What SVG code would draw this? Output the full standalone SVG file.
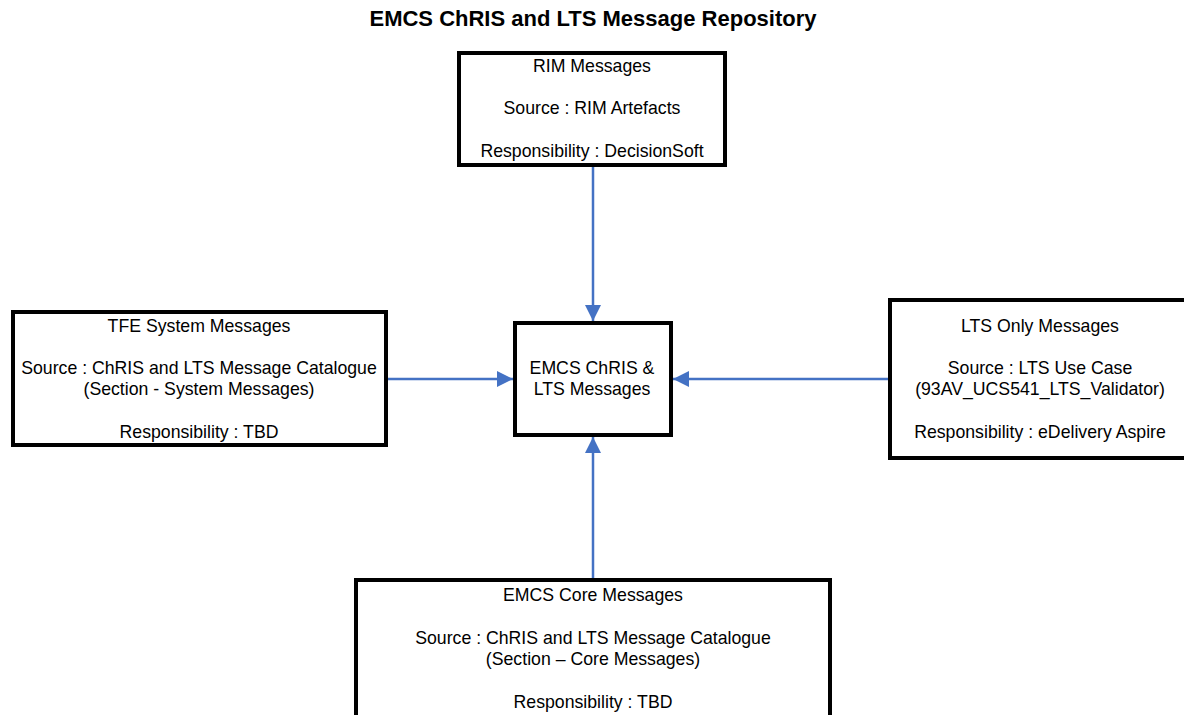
<svg xmlns="http://www.w3.org/2000/svg" width="1184" height="715" viewBox="0 0 1184 715">
<defs>
<style>
.box{fill:#fff;stroke:#000;stroke-width:4}
.t{font-family:"Liberation Sans",Arial,sans-serif;font-size:17.7px;fill:#000;text-anchor:middle}
.title{font-family:"Liberation Sans",Arial,sans-serif;font-size:22px;font-weight:bold;fill:#000;text-anchor:middle}
.conn{stroke:#4472C4;stroke-width:2.5;fill:none;marker-end:url(#ah)}
</style>
<marker id="ah" markerUnits="userSpaceOnUse" markerWidth="16" markerHeight="16" viewBox="0 0 16 16" refX="16" refY="8" orient="auto">
<path d="M0,0 L16,8 L0,16 Z" fill="#4472C4"/>
</marker>
</defs>
<rect width="1184" height="715" fill="#fff"/>
<text class="title" x="593" y="26">EMCS ChRIS and LTS Message Repository</text>
<g id="connectors">
<line class="conn" x1="593" y1="167" x2="593" y2="321"/>
<line class="conn" x1="388" y1="379" x2="513" y2="379"/>
<line class="conn" x1="889" y1="379" x2="673" y2="379"/>
<line class="conn" x1="593" y1="578" x2="593" y2="437"/>
</g>
<g id="rim">
<rect class="box" x="459" y="53" width="266" height="112"/>
<text class="t" x="592" y="72">RIM Messages</text>
<text class="t" x="592" y="114">Source : RIM Artefacts</text>
<text class="t" x="592" y="157">Responsibility : DecisionSoft</text>
</g>
<g id="tfe">
<rect class="box" x="13" y="312" width="373" height="133"/>
<text class="t" x="199" y="332">TFE System Messages</text>
<text class="t" x="199" y="374">Source : ChRIS and LTS Message Catalogue</text>
<text class="t" x="199" y="395">(Section - System Messages)</text>
<text class="t" x="199" y="438">Responsibility : TBD</text>
</g>
<g id="center">
<rect class="box" x="515" y="323" width="156" height="112"/>
<text class="t" x="592" y="374">EMCS ChRIS &amp;</text>
<text class="t" x="592" y="395">LTS Messages</text>
</g>
<g id="lts">
<rect class="box" x="890" y="300" width="302" height="158"/>
<text class="t" x="1040" y="332">LTS Only Messages</text>
<text class="t" x="1040" y="374">Source : LTS Use Case</text>
<text class="t" x="1040" y="395">(93AV_UCS541_LTS_Validator)</text>
<text class="t" x="1040" y="438">Responsibility : eDelivery Aspire</text>
</g>
<g id="core">
<rect class="box" x="356" y="580" width="474" height="150"/>
<text class="t" x="593" y="601">EMCS Core Messages</text>
<text class="t" x="593" y="644">Source : ChRIS and LTS Message Catalogue</text>
<text class="t" x="593" y="665">(Section – Core Messages)</text>
<text class="t" x="593" y="708">Responsibility : TBD</text>
</g>
</svg>
